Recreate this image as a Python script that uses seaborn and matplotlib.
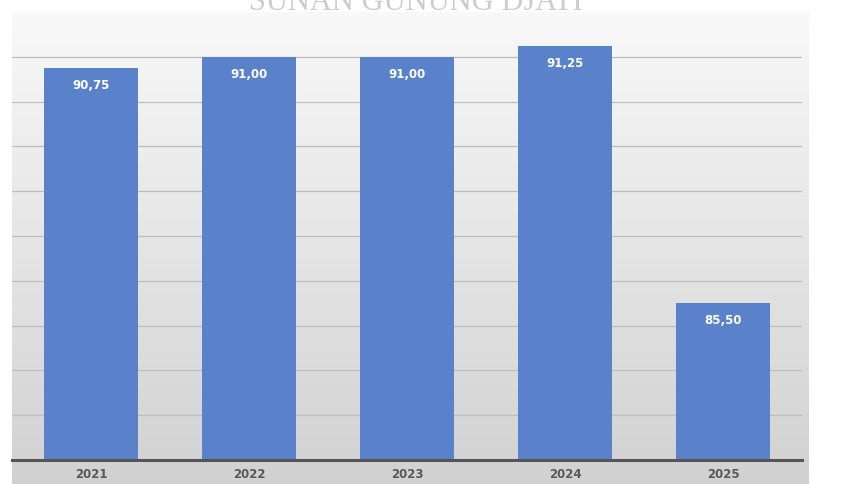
import numpy as np
import pandas as pd
import matplotlib
matplotlib.use("Agg")
import matplotlib.pyplot as plt
import seaborn as sns

years = ["2021", "2022", "2023", "2024", "2025"]
values = [90.75, 91.00, 91.00, 91.25, 85.50]
labels = ["90,75", "91,00", "91,00", "91,25", "85,50"]
title = "SUNAN GUNUNG DJATI"

df = pd.DataFrame({"year": years, "value": values})

sns.set_theme(style="white")
plt.rcParams['font.family'] = ['DejaVu Sans']

W, H = 861, 484
fig = plt.figure(figsize=(W / 100, H / 100), dpi=100)
fig.patch.set_facecolor("white")

# background panel with vertical gradient
px0, px1, py_top = 12, 809, 12
bg = fig.add_axes([px0 / W, 0, (px1 - px0) / W, (H - py_top) / H], zorder=0)
grad = np.linspace(0, 1, 256)[:, None]
top = np.array([0.975, 0.975, 0.975])
bot = np.array([0.82, 0.82, 0.82])
img = top[None, None, :] * (1 - grad[..., None]) + bot[None, None, :] * grad[..., None]
img = np.repeat(img, 4, axis=1)
bg.imshow(img, aspect="auto", extent=[0, 1, 0, 1], origin="upper")
bg.set_axis_off()

# main axes
ax = fig.add_axes([px0 / W, (H - 460) / H, (802 - px0) / W, (460 - py_top) / H], zorder=1)
ax.set_facecolor("none")
sns.barplot(data=df, x="year", y="value", color="#5A82CA", width=0.59,
            saturation=1, linewidth=0, edgecolor="none", ax=ax, zorder=3)
ax.set_ylim(82, 92)
ax.set_xlim(-0.5, 4.5)
ax.set_yticks(np.arange(82, 91.01, 1))
ax.yaxis.grid(True, color="#bdbdbd", linewidth=0.9, zorder=1)
ax.set_axisbelow(True)
ax.set_yticklabels([])
ax.tick_params(axis="y", length=0)
ax.tick_params(axis="x", length=0, pad=6, labelsize=8.5, labelcolor="#595959")
for lbl in ax.get_xticklabels():
    lbl.set_fontweight("bold")
ax.set_xlabel("")
ax.set_ylabel("")
for s in ["top", "right", "left"]:
    ax.spines[s].set_visible(False)
ax.spines["bottom"].set_color("#555555")
ax.spines["bottom"].set_linewidth(2.2)
ax.spines["bottom"].set_zorder(5)

for i, (v, t) in enumerate(zip(values, labels)):
    ax.annotate(t, (i, v), xytext=(0, -8), textcoords="offset points",
                ha="center", va="top", color="white", fontsize=8.5,
                fontweight="bold", zorder=6)

fig.text(416 / W, 1 - 10 / H, title, ha="center", va="baseline",
         fontsize=22, color="#cccccc", family=["Liberation Serif"])

fig.savefig("out.png", dpi=100)
